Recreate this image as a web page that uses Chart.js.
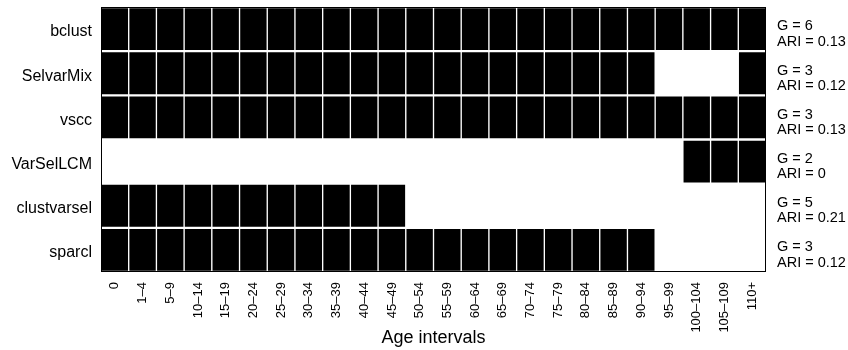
<!DOCTYPE html>
<html>
<head>
<meta charset="utf-8">
<script src="https://cdn.jsdelivr.net/npm/chart.js@4.4.1/dist/chart.umd.min.js"></script>
<style>
  html, body { margin: 0; padding: 0; background: #fff; }
  #wrap { width: 848px; height: 350px; }
</style>
</head>
<body>
<div id="wrap"><canvas id="selChart"></canvas></div>
<script>
// age intervals (columns) and methods (rows)
const ageIntervals = ['0', '1–4', '5–9', '10–14', '15–19', '20–24', '25–29', '30–34',
  '35–39', '40–44', '45–49', '50–54', '55–59', '60–64', '65–69', '70–74', '75–79',
  '80–84', '85–89', '90–94', '95–99', '100–104', '105–109', '110+'];
const methods = ['bclust', 'SelvarMix', 'vscc', 'VarSelLCM', 'clustvarsel', 'sparcl'];

// 1 = interval selected (black cell), 0 = not selected
const bclust      = [1,1,1,1,1,1,1,1,1,1,1,1,1,1,1,1,1,1,1,1,1,1,1,1];
const selvarMix   = [1,1,1,1,1,1,1,1,1,1,1,1,1,1,1,1,1,1,1,1,0,0,0,1];
const vscc        = [1,1,1,1,1,1,1,1,1,1,1,1,1,1,1,1,1,1,1,1,1,1,1,1];
const varSelLCM   = [0,0,0,0,0,0,0,0,0,0,0,0,0,0,0,0,0,0,0,0,0,1,1,1];
const clustvarsel = [1,1,1,1,1,1,1,1,1,1,1,0,0,0,0,0,0,0,0,0,0,0,0,0];
const sparcl      = [1,1,1,1,1,1,1,1,1,1,1,1,1,1,1,1,1,1,1,1,0,0,0,0];

// number of clusters and adjusted Rand index per method
const groups = [6, 3, 3, 2, 5, 3];
const ari = ['0.13', '0.12', '0.13', '0', '0.21', '0.12'];

const selections = [bclust, selvarMix, vscc, varSelLCM, clustvarsel, sparcl];

Chart.defaults.font.family = "'Liberation Sans', Arial, sans-serif";
Chart.defaults.color = '#000';

const datasets = methods.map((m, r) => ({
  label: m,
  data: selections[r].map(v => (v ? [r, r + 1] : null)),
  backgroundColor: '#000',
  borderColor: '#fff',
  borderWidth: { top: 1.5, bottom: 1.5, left: 1, right: 1 },
  borderSkipped: false,
  grouped: false,
  barPercentage: 1,
  categoryPercentage: 1
}));

const rowTicks = ax => { ax.ticks = methods.map((m, i) => ({ value: i + 0.5 })); };
const fitRows = w => ax => { ax.width = w; ax.paddingTop = 0; ax.paddingBottom = 0; };

// black frame round the plot area
const plotBox = {
  id: 'plotBox',
  afterDatasetsDraw(chart) {
    const { ctx, chartArea: a } = chart;
    ctx.save();
    ctx.strokeStyle = '#000';
    ctx.lineWidth = 1;
    ctx.strokeRect(a.left + 0.5, a.top + 0.5, a.width - 1, a.height - 1);
    ctx.restore();
  }
};

new Chart(document.getElementById('selChart'), {
  type: 'bar',
  data: { labels: ageIntervals, datasets },
  options: {
    responsive: true,
    maintainAspectRatio: false,
    animation: false,
    events: [],
    layout: { padding: { top: 7, left: 0, right: 0, bottom: 0 } },
    plugins: { legend: { display: false }, tooltip: { enabled: false } },
    scales: {
      x: {
        type: 'category',
        offset: true,
        grid: { display: false, drawTicks: false },
        border: { display: false },
        ticks: { autoSkip: false, minRotation: 90, maxRotation: 90, padding: 10, font: { size: 13 } },
        title: { display: true, text: 'Age intervals', font: { size: 18 }, padding: { top: 0, bottom: 1 } },
        afterFit: ax => { ax.height = 78; ax.paddingLeft = 0; ax.paddingRight = 0; }
      },
      y: {
        type: 'linear',
        min: 0,
        max: 6,
        reverse: true,
        position: 'left',
        grid: { display: false, drawTicks: false },
        border: { display: false },
        afterBuildTicks: rowTicks,
        ticks: { autoSkip: false, padding: 9, labelOffset: 3, font: { size: 16 }, callback: (v, i) => methods[i] },
        afterFit: fitRows(101)
      },
      y2: {
        type: 'linear',
        min: 0,
        max: 6,
        reverse: true,
        position: 'right',
        grid: { display: false, drawTicks: false },
        border: { display: false },
        afterBuildTicks: rowTicks,
        ticks: {
          autoSkip: false, padding: 11, labelOffset: 5, font: { size: 14.5, lineHeight: 1.05 },
          callback: (v, i) => ['G = ' + groups[i], 'ARI = ' + ari[i]]
        },
        afterFit: fitRows(82)
      }
    }
  },
  plugins: [plotBox]
});
</script>
</body>
</html>
